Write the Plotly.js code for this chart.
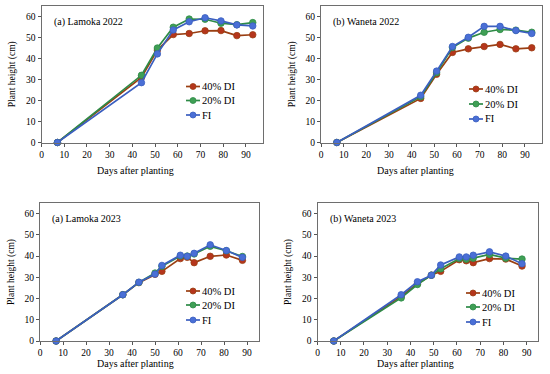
<!DOCTYPE html>
<html><head><meta charset="utf-8">
<script src="https://cdn.plot.ly/plotly-3.0.1.min.js"></script>
<style>html,body{margin:0;padding:0;background:#fff}#c{width:550px;height:374px}</style>
</head><body><div id="c"></div>
<script>
// Days after planting
const days2022 = [7, 44, 51, 58, 65, 72, 79, 86, 93];
const days2023 = [7, 36, 43, 50, 53, 61, 64, 67, 74, 81, 88];
const days2023w = [7, 36, 43, 49, 53, 61, 64, 67, 74, 81, 88];

// (a) Lamoka 2022
const lam22_di40 = [0, 31, 44, 51.4, 51.9, 53.2, 53.3, 50.9, 51.3];
const lam22_di20 = [0, 32, 45, 54.9, 58.8, 58.7, 56.8, 56.1, 57.1];
const lam22_fi   = [0, 28.5, 42.2, 53.6, 57.5, 59.4, 57.9, 56.0, 55.5];

// (b) Waneta 2022
const wan22_di40 = [0, 21, 32.5, 42.9, 44.6, 45.7, 46.7, 44.6, 45.1];
const wan22_di20 = [0, 21.8, 33.2, 45.2, 49.7, 52.5, 53.8, 53.5, 52.5];
const wan22_fi   = [0, 22.5, 34, 45.7, 50.1, 55.3, 55.3, 53.3, 51.9];

// (a) Lamoka 2023
const lam23_di40 = [0, 21.8, 27.5, 31.4, 32.8, 38.8, 39.4, 36.9, 39.9, 40.5, 38.0];
const lam23_di20 = [0, 21.8, 27.6, 32.0, 35.2, 40.0, 40.0, 41.0, 44.6, 42.5, 39.8];
const lam23_fi   = [0, 21.8, 27.7, 31.5, 35.6, 40.4, 39.9, 41.3, 45.3, 42.6, 39.4];

// (b) Waneta 2023
const wan23_di40 = [0, 21.0, 27.0, 31.0, 32.8, 38.3, 37.8, 36.9, 38.8, 38.6, 35.3];
const wan23_di20 = [0, 20.3, 26.6, 31.0, 34.0, 38.8, 38.5, 39.0, 40.8, 39.0, 38.6];
const wan23_fi   = [0, 21.8, 27.9, 31.0, 35.8, 39.6, 39.6, 40.4, 42.0, 40.0, 36.4];

const seriesNames = ['40% DI', '20% DI', 'FI'];
const panelTitles = ['(a) Lamoka 2022', '(b) Waneta 2022', '(a) Lamoka 2023', '(b) Waneta 2023'];
const xTitle = 'Days after planting';
const yTitle = 'Plant height (cm)';
const yTicks = [0, 10, 20, 30, 40, 50, 60];
const xTicks = [0, 10, 20, 30, 40, 50, 60, 70, 80, 90];

const lineCol = ['#9A3F12', '#2E8B47', '#3B5FC0'];
const markCol = ['#B5351C', '#3F9F55', '#4A6FD6'];

const W = 550, H = 374;
// panel boxes in pixels: [left, right, top, bottom]
const boxes = [[41.5, 263, 6, 142.5], [321, 541.5, 6, 142.5], [40, 259, 203, 341], [317.5, 538.3, 203, 341]];
const xRanges = [[0, 97.5], [0, 97.3], [0, 95.2], [0, 95]];
const legendY = [[86.5, 100.5, 115], [89, 104, 119], [291, 305, 320], [293, 307, 322]];
const legendX = [186, 469, 186, 466];
const xTitlePos = [[135, 170], [415, 170], [135, 363], [415, 363]];

const data = [];
const panels = [
  [days2022, [lam22_di40, lam22_di20, lam22_fi]],
  [days2022, [wan22_di40, wan22_di20, wan22_fi]],
  [days2023, [lam23_di40, lam23_di20, lam23_fi]],
  [days2023w, [wan23_di40, wan23_di20, wan23_fi]]
];
panels.forEach((p, i) => {
  const sfx = i === 0 ? '' : String(i + 1);
  p[1].forEach((ys, k) => {
    data.push({
      x: p[0], y: ys, type: 'scatter', mode: 'lines+markers', name: seriesNames[k],
      xaxis: 'x' + sfx, yaxis: 'y' + sfx, showlegend: false, cliponaxis: false,
      line: {color: lineCol[k], width: 1.7},
      marker: {color: markCol[k], size: 6.5, line: {color: lineCol[k], width: 0.8}}
    });
  });
});

const layout = {
  width: W, height: H, margin: {l: 0, r: 0, t: 0, b: 0},
  paper_bgcolor: '#fff', plot_bgcolor: '#fff', showlegend: false,
  font: {family: 'Liberation Serif, Times New Roman, serif', color: '#000', size: 10},
  annotations: [], shapes: []
};
boxes.forEach((b, i) => {
  const sfx = i === 0 ? '' : String(i + 1);
  layout['xaxis' + sfx] = {
    domain: [b[0] / W, b[1] / W], range: xRanges[i], anchor: 'y' + sfx,
    tickvals: xTicks, ticks: 'outside', ticklen: 3, tickcolor: '#555', tickwidth: 1,
    showline: true, mirror: true, linecolor: '#6e6e6e', linewidth: 1, showgrid: false, zeroline: false,
    tickfont: {size: 9.5, family: 'Liberation Serif'}
  };
  layout['yaxis' + sfx] = {
    domain: [1 - b[3] / H, 1 - b[2] / H], range: [0, 65], anchor: 'x' + sfx,
    tickvals: yTicks, ticks: 'outside', ticklen: 3, tickcolor: '#555', tickwidth: 1,
    showline: true, mirror: true, linecolor: '#6e6e6e', linewidth: 1, showgrid: false, zeroline: false,
    tickfont: {size: 9.5, family: 'Liberation Serif'},
    title: {text: yTitle, font: {size: 9.5, family: 'Liberation Serif'}, standoff: 8}
  };
  layout.annotations.push({
    text: xTitle, xref: 'paper', yref: 'paper', x: xTitlePos[i][0] / W, y: 1 - xTitlePos[i][1] / H,
    xanchor: 'center', yanchor: 'middle', showarrow: false,
    font: {size: 10, family: 'Liberation Serif'}
  });
  layout.annotations.push({
    text: panelTitles[i], xref: 'paper', yref: 'paper', x: (b[0] + 10) / W, y: 1 - (b[2] + 16) / H,
    xanchor: 'left', yanchor: 'middle', showarrow: false,
    font: {size: 10, family: 'Liberation Serif'}
  });
  seriesNames.forEach((nm, k) => {
    const yy = 1 - legendY[i][k] / H;
    const x0 = legendX[i] / W, x1 = (legendX[i] + 14) / W;
    layout.shapes.push({type: 'line', xref: 'paper', yref: 'paper', x0: x0, x1: x1, y0: yy, y1: yy,
      line: {color: lineCol[k], width: 1.7}});
    layout.shapes.push({type: 'circle', xref: 'paper', yref: 'paper',
      x0: (legendX[i] + 7 - 3) / W, x1: (legendX[i] + 7 + 3) / W,
      y0: yy - 3 / H, y1: yy + 3 / H,
      fillcolor: markCol[k], line: {color: lineCol[k], width: 0.8}});
    layout.annotations.push({text: nm, xref: 'paper', yref: 'paper', x: (legendX[i] + 14) / W, y: yy,
      xanchor: 'left', yanchor: 'middle', showarrow: false, font: {size: 10.5, family: 'Liberation Serif'}});
  });
});

Plotly.newPlot('c', data, layout, {staticPlot: true, displayModeBar: false});
</script></body></html>
